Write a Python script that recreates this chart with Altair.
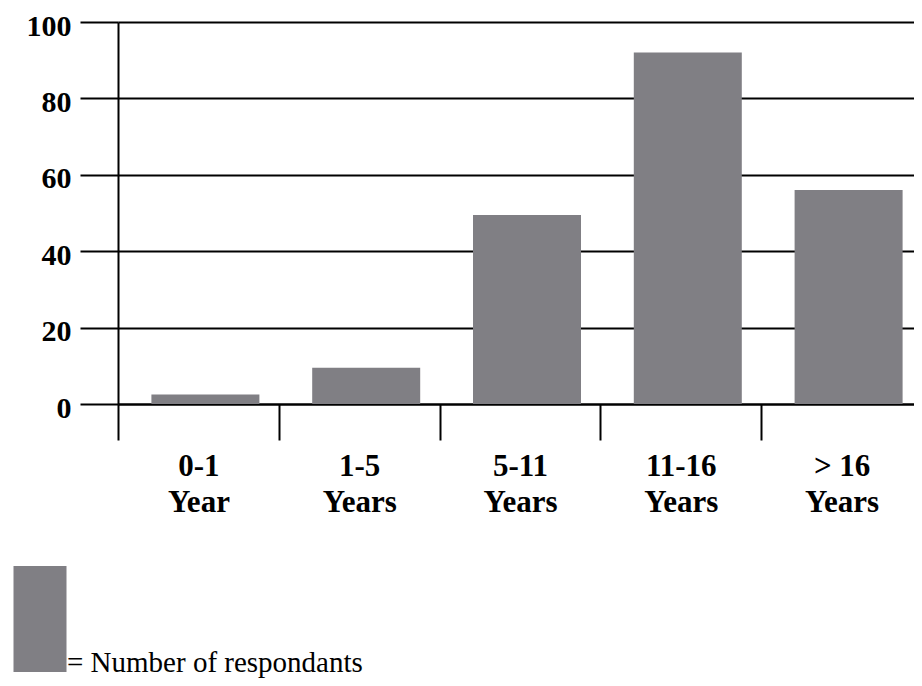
import altair as alt
import pandas as pd

categories = ["0-1|Year", "1-5|Years", "5-11|Years", "11-16|Years", "> 16|Years"]
values = [2.5, 9.5, 49.5, 92, 56]
series_name = "Number of respondants"
y_ticks = [0, 20, 40, 60, 80, 100]

df = pd.DataFrame({
    "category": categories,
    "value": values,
    "series": [series_name] * len(categories),
})

FONT = "Liberation Serif, Times New Roman, DejaVu Serif, serif"
BAR = "#807f84"

chart = alt.Chart(df).mark_bar(width=108, xOffset=7, opacity=1).encode(
    x=alt.X(
        "category:N", sort=categories,
        scale=alt.Scale(paddingInner=0, paddingOuter=0, range=[0, 804]),
        axis=alt.Axis(
            title=None, labelAngle=0, grid=False,
            labelExpr="split(datum.label, '|')",
            tickBand="extent", tickSize=36, tickWidth=2, tickColor="black",
            domainColor="black", domainWidth=2,
            labelFont=FONT, labelFontSize=31, labelFontWeight="bold",
            labelColor="black", labelPadding=11, labelLineHeight=36,
            labelBaseline="top",
        ),
    ),
    y=alt.Y(
        "value:Q",
        scale=alt.Scale(domain=[0, 100], nice=False),
        axis=alt.Axis(
            title=None, values=y_ticks, grid=True,
            gridColor="black", gridWidth=2, gridOpacity=1,
            tickSize=38, tickWidth=2, tickColor="black",
            domainColor="black", domainWidth=2,
            labelFont=FONT, labelFontSize=30, labelFontWeight="bold",
            labelColor="black", labelPadding=9, labelOffset=4,
        ),
    ),
    fill=alt.Fill(
        "series:N",
        scale=alt.Scale(range=[BAR]),
        legend=alt.Legend(
            title=None, orient="none", legendX=-131, legendY=597,
            symbolType="M-0.5,-2H0.5V0H-0.5Z",
            symbolSize=11236, symbolStrokeWidth=0, symbolOpacity=1,
            labelExpr="'= ' + datum.label",
            labelFont=FONT, labelFontSize=29, labelColor="black",
            labelOffset={"expr": "-26"}, labelLimit=0,
            labelBaseline="alphabetic",
        ),
    ),
).properties(
    width=796, height=382,
    padding={"left": 110, "top": 14, "right": 0, "bottom": 274},
    autosize=alt.AutoSizeParams(type="none"),
).configure_view(stroke=None)

chart.save("out.html", embed_options={"renderer": "svg", "actions": False})
